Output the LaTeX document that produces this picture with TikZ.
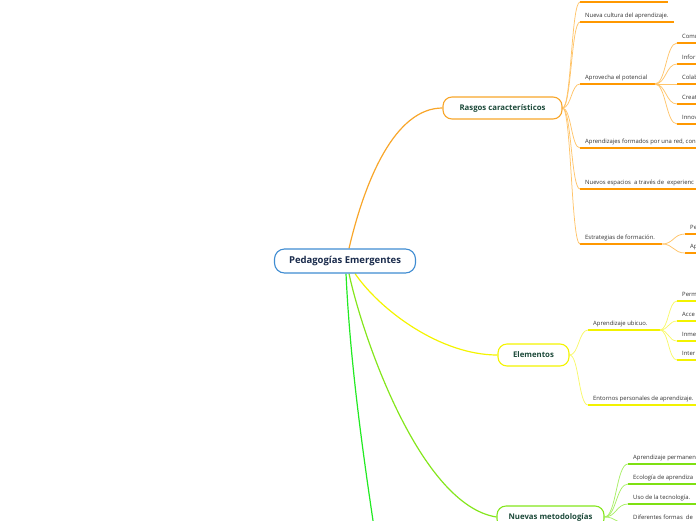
\documentclass[tikz,border=0pt]{standalone}
\usepackage{fontspec}
\setmainfont{Open Sans}
\usetikzlibrary{calc}
\pgfdeclarelayer{background}
\pgfsetlayers{background,main}
\definecolor{orM}{HTML}{F8A62A}
\definecolor{orU}{HTML}{FF9800}
\definecolor{orC}{HTML}{FFC46A}
\definecolor{yeM}{HTML}{F4F400}
\definecolor{yeU}{HTML}{F2F200}
\definecolor{yeC}{HTML}{F8F86A}
\definecolor{liM}{HTML}{84E61C}
\definecolor{liU}{HTML}{7EE012}
\definecolor{liC}{HTML}{A8EE66}
\definecolor{grM}{HTML}{22EA22}
\definecolor{blB}{HTML}{3F8CD2}
\definecolor{cText}{HTML}{1A2B4C}
\definecolor{tText}{HTML}{1D4A3A}
\definecolor{lText}{HTML}{333333}
\newcommand\leafline[6]{%
  \coordinate (#1) at (#2,#3);
  \coordinate (#1e) at ({#2+#4},#3);
  \draw[ul,#5] (#1) -- (#1e);
  \node[lbl] (#1t) at ({#2+5},{#3-4.8}) {#6};
}
\newcommand\branchto[3]{%
  \path (#1) coordinate (bA) (#2) coordinate (bB);
  \draw[sub,#3] let \p1=(bA), \p2=(bB) in
    (\p1) .. controls ({0.5*\x1+0.5*\x2},\y1) and ({0.5*\x1+0.5*\x2},\y2) .. (\p2);
}
\begin{document}
\begin{tikzpicture}[x=1pt,y=-1pt,
  topic/.style={draw, line width=1.1pt, rounded corners=9pt, fill=white,
    minimum height=22pt, inner sep=0pt, text=tText,
    font=\fontsize{7.8}{9}\selectfont\bfseries},
  central/.style={draw=blB, line width=1.1pt, rounded corners=10pt, fill=white,
    minimum height=24pt, minimum width=141pt, inner sep=0pt, text=cText,
    font=\fontsize{9.5}{11}\selectfont\bfseries},
  lbl/.style={anchor=base west, inner sep=0pt, text=lText,
    font=\fontsize{5.9}{7}\selectfont},
  ul/.style={line width=1.7pt},
  sub/.style={line width=0.75pt},
  mainc/.style={line width=1.2pt}]
\useasboundingbox (0,0) rectangle (696,520);
\clip (0,0) rectangle (696,520);

% ---------- topic nodes
\coordinate (gEnd) at (379,560);
\node[central] (C) at (345,261) {Pedagogías Emergentes};
\node[topic, draw=orM, minimum width=119pt] (R) at (502.5,108) {Rasgos característicos};
\node[topic, draw=yeM, minimum width=71pt] (E) at (533.5,355) {Elementos};
\node[topic, draw=liM, minimum width=107pt] (N) at (550.5,517) {Nuevas metodologías};

\begin{pgfonlayer}{background}
\draw[mainc, orM] ([xshift=4pt]C.north) .. controls (365,180) and (395,108) .. (R.west);
\draw[mainc, yeM] ([xshift=10pt]C.south) .. controls (380,310) and (440,355) .. (E.west);
\draw[mainc, liM] ([xshift=4pt]C.south) .. controls (362,335) and (420,505) .. (N.west);
\draw[mainc, grM] ([xshift=1pt]C.south) .. controls (350,360) and (362,450) .. (gEnd);

% ---------- Rasgos
\coordinate (r0) at (580,2);
\coordinate (r0e) at (668,2);
\draw[ul,orU] (r0) -- (r0e);
\leafline{r1}{580}{22}{94}{orU}{Nueva cultura del aprendizaje.}
\leafline{r2}{580}{84}{75}{orU}{Aprovecha el potencial}
\leafline{r3}{580}{148}{130}{orU}{Aprendizajes formados por una red, con}
\leafline{r4}{580}{189}{130}{orU}{Nuevos espacios\ \ a través de\ \ experienc}
\leafline{r5}{580}{244}{82}{orU}{Estrategias de formación.}
\foreach \k in {r0,r1,r2,r3,r4,r5} {\branchto{R.east}{\k}{orC}}

\leafline{ra}{677}{43}{30}{orU}{Comu}
\leafline{rb}{677}{64}{30}{orU}{Infor}
\leafline{rc}{677}{84}{30}{orU}{Colab}
\leafline{rd}{677}{104}{30}{orU}{Creat}
\leafline{rf}{677}{124}{30}{orU}{Innov}
\foreach \k in {ra,rb,rc,rd,rf} {\branchto{r2e}{\k}{orC}}

\leafline{rg}{685}{234}{20}{orU}{Pe}
\leafline{rh}{685}{253}{20}{orU}{Ap}
\foreach \k in {rg,rh} {\branchto{r5e}{\k}{orC}}

% ---------- Elementos
\leafline{e1}{588}{330}{72}{yeU}{Aprendizaje ubicuo.}
\leafline{e2}{588}{405}{120}{yeU}{Entornos personales de aprendizaje.}
\foreach \k in {e1,e2} {\branchto{E.east}{\k}{yeC}}

\leafline{ea}{677}{301}{30}{yeU}{Perm}
\leafline{eb}{677}{321}{30}{yeU}{Acce}
\leafline{ec}{677}{341}{30}{yeU}{Inme}
\leafline{ed}{677}{360}{30}{yeU}{Inter}
\foreach \k in {ea,eb,ec,ed} {\branchto{e1e}{\k}{yeC}}

% ---------- Nuevas metodologias
\leafline{n1}{628}{464}{80}{liU}{Aprendizaje permanen}
\leafline{n2}{628}{484}{80}{liU}{Ecología de aprendiza}
\leafline{n3}{628}{504}{70}{liU}{Uso de la tecnología.}
\leafline{n4}{628}{524}{80}{liU}{Diferentes formas\ \ de}
\foreach \k in {n1,n2,n3,n4} {\branchto{N.east}{\k}{liC}}
\end{pgfonlayer}
\end{tikzpicture}
\end{document}
